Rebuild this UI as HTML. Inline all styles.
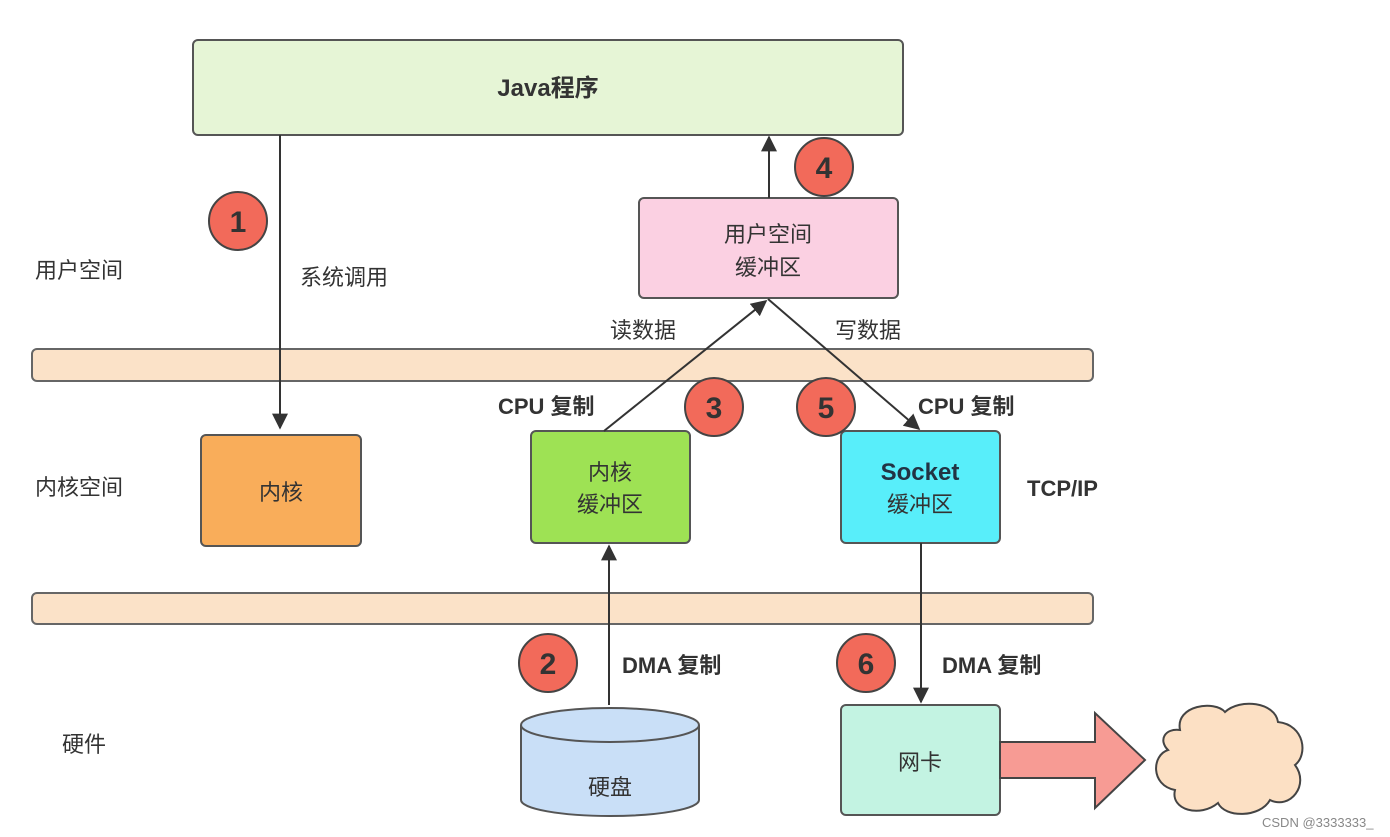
<!DOCTYPE html>
<html><head><meta charset="utf-8"><style>
body{margin:0;background:#fff}
svg{display:block}
text{font-family:"Liberation Sans","Noto Sans CJK SC",sans-serif;fill:#333}
</style></head><body>
<svg width="1390" height="837" viewBox="0 0 1390 837" xmlns="http://www.w3.org/2000/svg">
<defs><marker id="a" viewBox="0 0 10 10" refX="9" refY="5" markerWidth="8" markerHeight="8" orient="auto"><path d="M0,0L10,5L0,10z" fill="#333"/></marker></defs>
<rect x="193" y="40" width="710" height="95" rx="5" fill="#e6f5d6" stroke="#555" stroke-width="2"/>
<text x="548" y="96" font-size="24" text-anchor="middle" font-weight="bold">Java程序</text>
<rect x="32" y="349" width="1061" height="32" rx="5" fill="#fbe2c8" stroke="#666" stroke-width="2"/>
<rect x="32" y="593" width="1061" height="31" rx="5" fill="#fbe2c8" stroke="#666" stroke-width="2"/>
<text x="35" y="278" font-size="22">用户空间</text>
<text x="35" y="495" font-size="22">内核空间</text>
<text x="62" y="752" font-size="22">硬件</text>
<line x1="280" y1="135" x2="280" y2="428" stroke="#333" stroke-width="2" marker-end="url(#a)"/>
<text x="300" y="285" font-size="22">系统调用</text>
<rect x="201" y="435" width="160" height="111" rx="5" fill="#f9ad5a" stroke="#555" stroke-width="2"/>
<text x="281" y="500" font-size="22" text-anchor="middle">内核</text>
<rect x="531" y="431" width="159" height="112" rx="5" fill="#9ee254" stroke="#555" stroke-width="2"/>
<text x="610" y="480" font-size="22" text-anchor="middle">内核</text>
<text x="610" y="512" font-size="22" text-anchor="middle">缓冲区</text>
<rect x="841" y="431" width="159" height="112" rx="5" fill="#58eefa" stroke="#555" stroke-width="2"/>
<text x="920" y="480" font-size="24" text-anchor="middle" font-weight="bold" style="fill:#234">Socket</text>
<text x="920" y="512" font-size="22" text-anchor="middle">缓冲区</text>
<rect x="639" y="198" width="259" height="100" rx="5" fill="#fbd0e2" stroke="#555" stroke-width="2"/>
<text x="768" y="242" font-size="22" text-anchor="middle">用户空间</text>
<text x="768" y="275" font-size="22" text-anchor="middle">缓冲区</text>
<line x1="769" y1="198" x2="769" y2="137" stroke="#333" stroke-width="2" marker-end="url(#a)"/>
<line x1="604" y1="431" x2="766" y2="301" stroke="#333" stroke-width="2" marker-end="url(#a)"/>
<line x1="768" y1="299" x2="919" y2="429" stroke="#333" stroke-width="2" marker-end="url(#a)"/>
<text x="610" y="338" font-size="22">读数据</text>
<text x="835" y="338" font-size="22">写数据</text>
<text x="498" y="414" font-size="22" font-weight="bold">CPU 复制</text>
<text x="918" y="414" font-size="22" font-weight="bold">CPU 复制</text>
<text x="1027" y="496" font-size="22" font-weight="bold">TCP/IP</text>
<line x1="609" y1="705" x2="609" y2="546" stroke="#333" stroke-width="2" marker-end="url(#a)"/>
<line x1="921" y1="543" x2="921" y2="702" stroke="#333" stroke-width="2" marker-end="url(#a)"/>
<text x="622" y="673" font-size="22" font-weight="bold">DMA 复制</text>
<text x="942" y="673" font-size="22" font-weight="bold">DMA 复制</text>
<g stroke="#444" stroke-width="2" fill="#f26a5a">
<circle cx="238" cy="221" r="29"/><circle cx="824" cy="167" r="29"/>
<circle cx="714" cy="407" r="29"/><circle cx="826" cy="407" r="29"/>
<circle cx="548" cy="663" r="29"/><circle cx="866" cy="663" r="29"/>
</g>
<g font-size="30" text-anchor="middle" font-weight="bold">
<text x="238" y="232">1</text><text x="824" y="178">4</text>
<text x="714" y="418">3</text><text x="826" y="418">5</text>
<text x="548" y="674">2</text><text x="866" y="674">6</text>
</g>
<path d="M521,725 L521,800 A89,16 0 0 0 699,800 L699,725" fill="#c9dff7" stroke="#555" stroke-width="2"/>
<ellipse cx="610" cy="725" rx="89" ry="17" fill="#c9dff7" stroke="#555" stroke-width="2"/>
<text x="610" y="795" font-size="22" text-anchor="middle">硬盘</text>
<rect x="841" y="705" width="159" height="110" rx="5" fill="#c3f3e2" stroke="#555" stroke-width="2"/>
<text x="920" y="770" font-size="22" text-anchor="middle">网卡</text>
<path d="M1000,742 L1095,742 L1095,713 L1145,760 L1095,808 L1095,778 L1000,778 z" fill="#f79b94" stroke="#444" stroke-width="2"/>
<path d="M1180,730 C1175,705 1215,700 1225,712 C1240,698 1275,702 1278,722 C1305,725 1308,755 1295,765 C1310,785 1290,810 1270,800 C1260,818 1225,818 1218,803 C1200,818 1170,810 1175,790 C1150,785 1152,755 1168,750 C1158,740 1165,728 1180,730 z" fill="#fce0c4" stroke="#444" stroke-width="2"/>
<text x="1262" y="827" font-size="13" style="fill:#888">CSDN @3333333_</text>
</svg>
</body></html>
